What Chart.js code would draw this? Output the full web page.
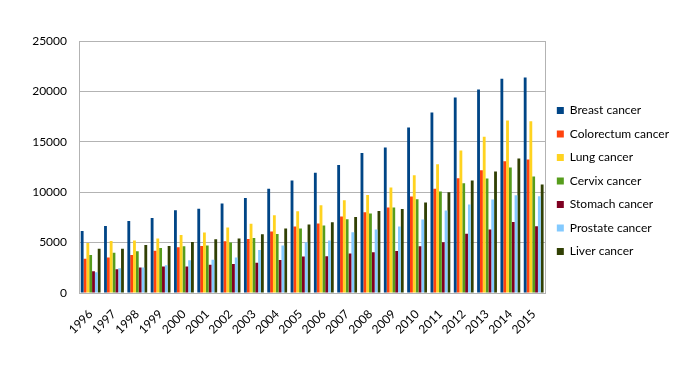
<!DOCTYPE html>
<html lang="en">
<head>
  <meta charset="UTF-8" />
  <title>Cancer cases 1996-2015</title>
  <script src="https://cdn.jsdelivr.net/npm/chart.js@4.4.1/dist/chart.umd.min.js"></script>
  <style>
    html, body { margin: 0; padding: 0; background: #fff; }
    .wrap { width: 679px; height: 371px; position: relative; }
  </style>
</head>
<body>
  <div class="wrap"><canvas id="chart"></canvas></div>
  <script>
    const years = ['1996', '1997', '1998', '1999', '2000', '2001', '2002', '2003', '2004', '2005',
      '2006', '2007', '2008', '2009', '2010', '2011', '2012', '2013', '2014', '2015'];

    const breast = [6150, 6650, 7150, 7450, 8200, 8350, 8870, 9430, 10330, 11150,
      11920, 12710, 13900, 14430, 16420, 17910, 19400, 20190, 21250, 21380];
    const colorectum = [3410, 3510, 3770, 4200, 4540, 4670, 5140, 5360, 6090, 6590,
      6890, 7580, 8010, 8470, 9570, 10330, 11390, 12180, 13070, 13240];
    const lung = [4970, 5160, 5200, 5400, 5760, 5990, 6490, 6880, 7710, 8110,
      8710, 9200, 9730, 10460, 11690, 12780, 14140, 15490, 17110, 17050];
    const cervix = [3770, 4000, 4140, 4470, 4630, 4700, 5000, 5460, 5860, 6390,
      6690, 7320, 7880, 8470, 9300, 10060, 10890, 11350, 12450, 11550];
    const stomach = [2150, 2350, 2520, 2620, 2620, 2810, 2880, 3010, 3280, 3610,
      3640, 3910, 4040, 4170, 4630, 5030, 5890, 6290, 7050, 6620];
    const prostate = [2050, 2450, 2520, 2750, 3240, 3310, 3510, 4270, 4700, 5030,
      5200, 6020, 6290, 6590, 7280, 8180, 8770, 9270, 9700, 9600];
    const liver = [4400, 4400, 4770, 4670, 5060, 5330, 5400, 5830, 6390, 6790,
      7020, 7550, 8140, 8340, 8970, 10000, 11150, 12050, 13340, 10760];

    const yTicks = [0, 5000, 10000, 15000, 20000, 25000];

    const series = [
      { label: 'Breast cancer', data: breast, color: '#004586' },
      { label: 'Colorectum cancer', data: colorectum, color: '#ff420e' },
      { label: 'Lung cancer', data: lung, color: '#ffd320' },
      { label: 'Cervix cancer', data: cervix, color: '#579d1c' },
      { label: 'Stomach cancer', data: stomach, color: '#7e0021' },
      { label: 'Prostate cancer', data: prostate, color: '#83caff' },
      { label: 'Liver cancer', data: liver, color: '#314004' }
    ];

    // frame around the plot area, like the office chart
    const frame = {
      id: 'frame',
      afterDatasetsDraw(chart) {
        const a = chart.chartArea;
        const ctx = chart.ctx;
        ctx.save();
        ctx.strokeStyle = '#b3b3b3';
        ctx.lineWidth = 1;
        ctx.strokeRect(Math.round(a.left) + 0.5, Math.round(a.top) + 0.5,
          Math.round(a.right - a.left), Math.round(a.bottom - a.top));
        ctx.restore();
      }
    };

    Chart.defaults.font.family = 'Lato, "Liberation Sans", sans-serif';
    Chart.defaults.font.size = 12;
    Chart.defaults.color = '#000';

    new Chart(document.getElementById('chart'), {
      type: 'bar',
      data: {
        labels: years,
        datasets: series.map((s) => ({
          label: s.label,
          data: s.data,
          backgroundColor: s.color,
          borderWidth: 0,
          categoryPercentage: 0.85,
          barPercentage: 1.0
        }))
      },
      options: {
        responsive: true,
        maintainAspectRatio: false,
        animation: false,
        layout: { padding: { top: 0, right: 0, bottom: 9, left: 0 } },
        plugins: {
          tooltip: { enabled: false },
          legend: {
            position: 'right',
            labels: {
              boxWidth: 7,
              boxHeight: 7,
              padding: 11.5,
              font: { size: 12 },
              color: '#000'
            }
          }
        },
        scales: {
          x: {
            grid: { display: false, drawTicks: false },
            border: { display: true, color: '#b3b3b3' },
            ticks: { maxRotation: 45, minRotation: 45, padding: 14, autoSkip: false },
            afterFit(scale) { scale.height = 69; }
          },
          // empty band above the plot, keeps the legend centred on the whole page
          xTop: {
            type: 'category',
            position: 'top',
            grid: { display: false, drawTicks: false },
            border: { display: false },
            ticks: { display: false },
            afterFit(scale) { scale.height = 41; }
          },
          y: {
            min: 0,
            max: 25000,
            afterBuildTicks(scale) { scale.ticks = yTicks.map((v) => ({ value: v })); },
            grid: { color: '#b3b3b3', drawTicks: false },
            border: { display: true, color: '#b3b3b3' },
            ticks: { padding: 12, callback: (v) => String(v) },
            afterFit(scale) { scale.width = 79; }
          }
        }
      },
      plugins: [frame]
    });
  </script>
</body>
</html>
